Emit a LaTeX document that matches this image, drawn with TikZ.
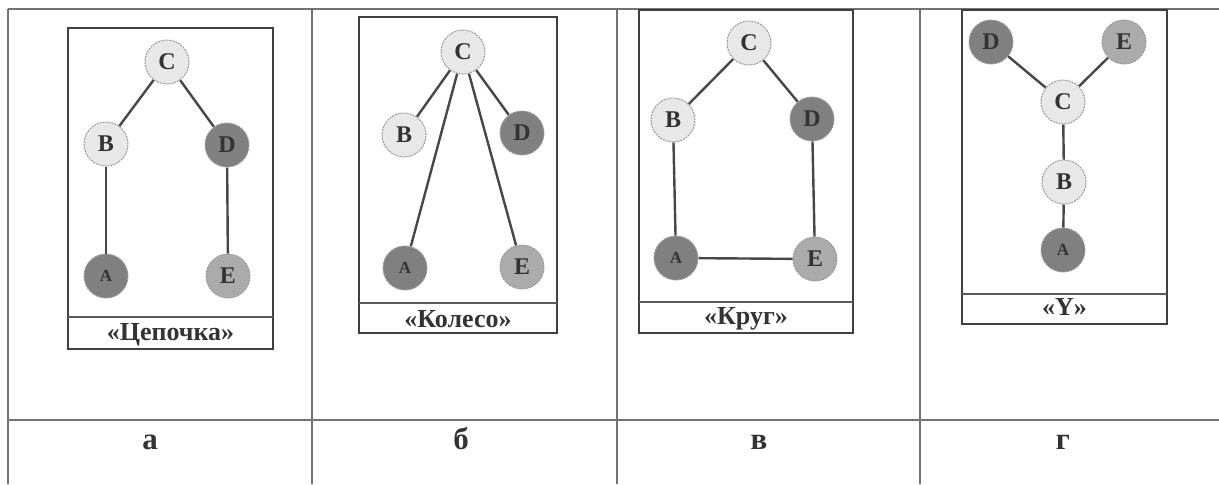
\documentclass[tikz,border=0pt]{standalone}
\usepackage{fontspec}
\setmainfont{Liberation Serif}
\begin{document}
\begin{tikzpicture}[x=0.5pt,y=-0.5pt,
  tline/.style={draw=black!55, line width=0.6pt},
  frame/.style={draw=black!75, line width=1.1pt},
  capsep/.style={draw=black!65, line width=0.6pt},
  vtx/.style={circle, minimum size=22pt, inner sep=0pt, draw=black!40, line width=0.5pt,
     dash pattern=on 1pt off 0.5pt, font=\fontsize{12}{13}\selectfont\bfseries, text=black!80},
  lite/.style={vtx, fill=black!9},
  dark/.style={vtx, fill=black!50},
  mid/.style={vtx, fill=black!33},
  smalltext/.style={font=\fontsize{8.5}{9}\selectfont\bfseries},
  edge/.style={draw=black!72, line width=1.2pt},
  caption/.style={anchor=base, font=\fontsize{13}{15}\selectfont\bfseries, text=black!80},
  label/.style={anchor=base, font=\fontsize{15.5}{17}\selectfont\bfseries, text=black!80}]
\useasboundingbox (0,0) rectangle (1219,484);
% table
\draw[tline] (8,9) -- (1219,9);
\draw[tline] (8,9) -- (8,484);
\draw[tline] (312,9) -- (312,484);
\draw[tline] (617,9) -- (617,484);
\draw[tline] (920,9) -- (920,484);
\draw[tline] (8,420) -- (1219,420);
\node[label] (la) at (150,449) {а};
\node[label] (lb) at (461,449) {б};
\node[label] (lc) at (759,449) {в};
\node[label] (ld) at (1063,449) {г};

% panel a
\draw[frame] (68,28) rectangle (273,349);
\draw[capsep] (68,317) -- (273,317);
\node[caption] (capa) at (170.5,340) {«Цепочка»};
\node[lite] (aC) at (167,62) {C};
\node[lite] (aB) at (106,144) {B};
\node[dark] (aD) at (227,145) {D};
\node[dark, smalltext] (aA) at (106,276) {A};
\node[mid] (aE) at (228,276) {E};
\draw[edge] (aC) -- (aB);
\draw[edge] (aC) -- (aD);
\draw[edge] (aB) -- (aA);
\draw[edge] (aD) -- (aE);

% panel b
\draw[frame] (359,17) rectangle (557,333);
\draw[capsep] (359,303) -- (557,303);
\node[caption] (capb) at (458,327) {«Колесо»};
\node[lite] (bC) at (463,52) {C};
\node[lite] (bB) at (404,135) {B};
\node[dark] (bD) at (522,133) {D};
\node[dark, smalltext] (bA) at (405,268) {A};
\node[mid] (bE) at (522,267) {E};
\draw[edge] (bC) -- (bB);
\draw[edge] (bC) -- (bD);
\draw[edge] (bC) -- (bA);
\draw[edge] (bC) -- (bE);

% panel c
\draw[frame] (639,10) rectangle (853,333);
\draw[capsep] (639,302) -- (853,302);
\node[caption] (capc) at (746,324) {«Круг»};
\node[lite] (cC) at (749,43) {C};
\node[lite] (cB) at (673,120) {B};
\node[dark] (cD) at (812,119) {D};
\node[dark, smalltext] (cA) at (676,258) {A};
\node[mid] (cE) at (815,259) {E};
\draw[edge] (cC) -- (cB);
\draw[edge] (cC) -- (cD);
\draw[edge] (cB) -- (cA);
\draw[edge] (cD) -- (cE);
\draw[edge] (cA) -- (cE);

% panel d
\draw[frame] (962,10) rectangle (1167,324);
\draw[capsep] (962,294) -- (1167,294);
\node[caption] (capd) at (1064.5,315) {«Y»};
\node[dark] (dD) at (991,42) {D};
\node[mid] (dE) at (1124,42) {E};
\node[lite] (dC) at (1063,102) {C};
\node[lite] (dB) at (1064,182) {B};
\node[dark, smalltext] (dA) at (1063,250) {A};
\draw[edge] (dD) -- (dC);
\draw[edge] (dE) -- (dC);
\draw[edge] (dC) -- (dB);
\draw[edge] (dB) -- (dA);
\end{tikzpicture}
\end{document}
